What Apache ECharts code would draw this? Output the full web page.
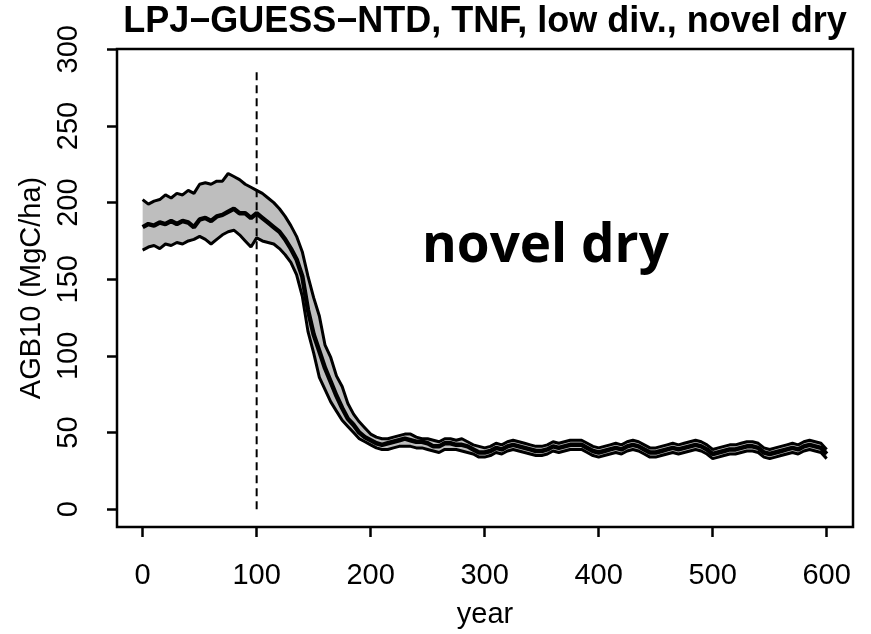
<!DOCTYPE html>
<html>
<head>
<meta charset="utf-8">
<script src="https://cdn.jsdelivr.net/npm/echarts@6/dist/echarts.min.js"></script>
<style>html,body{margin:0;padding:0;background:#fff}#c{width:871px;height:634px}</style>
</head>
<body>
<div id="c"></div>
<script>
const years = [0,5,10,15,20,25,30,35,40,45,50,55,60,65,70,75,80,85,90,95,100,105,110,115,120,125,130,135,140,145,150,155,160,165,170,175,180,185,190,195,200,205,210,215,220,225,230,235,240,245,250,255,260,265,270,275,280,285,290,295,300,305,310,315,320,325,330,335,340,345,350,355,360,365,370,375,380,385,390,395,400,405,410,415,420,425,430,435,440,445,450,455,460,465,470,475,480,485,490,495,500,505,510,515,520,525,530,535,540,545,550,555,560,565,570,575,580,585,590,595,600];
const meanAGB = [
184,186,185,187,186,188,186,188,187,184,
189,190,188,191,192,194,196,193,193,190,
193,190,187,184,181,176,170,163,152,130,
114,103,92,83,74,66,59,55,50,47,
45,43,42,43,44,45,46,45,44,44,
43,41,41,43,43,42,42,41,39,37,
37,38,40,39,41,42,41,40,39,38,
38,39,41,40,41,42,42,42,40,38,
37,38,39,40,39,41,42,41,39,37,
37,38,39,40,39,40,41,42,41,39,
36,37,38,39,39,40,41,41,40,37,
36,37,38,39,40,39,41,42,41,40,
36];
const upperAGB = [
202,199,201,202,205,203,206,205,208,206,
212,213,212,214,214,219,217,215,212,210,
208,206,203,200,196,191,185,178,168,152,
138,126,107,99,87,80,69,62,57,53,
49,47,46,46,47,48,49,49,47,46,
46,45,44,46,46,45,46,44,42,41,
40,41,43,42,44,45,44,43,42,41,
41,42,44,43,44,45,45,45,43,41,
40,41,42,43,42,44,45,44,42,40,
40,41,42,43,42,43,44,45,44,42,
39,40,41,42,42,43,44,44,43,40,
39,40,41,42,43,42,44,45,44,43,
39];
const lowerAGB = [
169,171,172,170,173,172,174,173,175,176,
178,176,173,176,179,181,182,179,175,171,
177,175,174,173,170,166,161,153,139,116,
102,86,78,70,64,58,54,50,46,44,
42,40,39,39,40,41,41,41,40,40,
39,38,37,39,39,39,38,37,36,34,
34,35,37,36,38,39,38,37,36,35,
35,36,38,37,38,39,39,39,37,35,
34,35,36,37,36,38,39,38,36,34,
34,35,36,37,36,37,38,39,38,36,
33,34,35,36,36,37,38,38,37,34,
33,34,35,36,37,36,38,39,38,37,
33];
const xTicks = [0,100,200,300,400,500,600];
const yTicks = [0,50,100,150,200,250,300];
const markerYear = 100;
const markerSpan = [0, 287];
const titleText = 'LPJ\u2212GUESS\u2212NTD, TNF, low div., novel dry';
const annotation = 'novel dry';

const pair = (a) => years.map((x, i) => [x, a[i]]);

const chart = echarts.init(document.getElementById('c'), null, {renderer: 'canvas'});
const font = 'Liberation Sans, Arial, Helvetica, sans-serif';
chart.setOption({
  animation: false,
  backgroundColor: '#fff',
  grid: {left: 117, top: 49, right: 18, bottom: 102, show: true, borderColor: '#000', borderWidth: 2.5, backgroundColor: 'transparent'},
  xAxis: {
    type: 'value', min: -22.5, max: 623.1,
    name: 'year', nameLocation: 'middle', nameGap: 73,
    nameTextStyle: {fontFamily: font, fontSize: 29, color: '#000'},
    axisLine: {show: false, onZero: false}, splitLine: {show: false},
    axisTick: {show: true, inside: false, length: 10, lineStyle: {color: '#000', width: 2.5}, customValues: xTicks},
    axisLabel: {show: true, margin: 34, fontFamily: font, fontSize: 29, color: '#000', customValues: xTicks}
  },
  yAxis: {
    type: 'value', min: -11.6, max: 300.2,
    name: 'AGB10 (MgC/ha)', nameLocation: 'middle', nameGap: 65, nameRotate: 90,
    nameTextStyle: {fontFamily: font, fontSize: 29, color: '#000'},
    axisLine: {show: false, onZero: false}, splitLine: {show: false},
    axisTick: {show: true, inside: false, length: 10, lineStyle: {color: '#000', width: 2.5}, customValues: yTicks},
    axisLabel: {show: true, rotate: 90, margin: 34, fontFamily: font, fontSize: 29, color: '#000', customValues: yTicks}
  },
  series: [
    {
      type: 'custom', name: 'band', silent: true, z: 1,
      data: years.map((x, i) => [x, upperAGB[i], lowerAGB[i]]),
      encode: {x: 0, y: [1, 2]},
      renderItem: function (params, api) {
        if (params.dataIndex !== 0) return null;
        const pts = [];
        for (let i = 0; i < years.length; i++) pts.push(api.coord([years[i], upperAGB[i]]));
        for (let i = years.length - 1; i >= 0; i--) pts.push(api.coord([years[i], lowerAGB[i]]));
        return {type: 'polygon', shape: {points: pts}, style: {fill: '#bebebe', stroke: null}};
      }
    },
    {type: 'line', name: 'upper', data: pair(upperAGB), symbol: 'none', lineStyle: {color: '#000', width: 3}, z: 3},
    {type: 'line', name: 'lower', data: pair(lowerAGB), symbol: 'none', lineStyle: {color: '#000', width: 3}, z: 3},
    {type: 'line', name: 'mean', data: pair(meanAGB), symbol: 'none', lineStyle: {color: '#000', width: 4.5}, z: 4},
    {type: 'line', name: 'marker', data: [[markerYear, markerSpan[0]], [markerYear, markerSpan[1]]], symbol: 'none', lineStyle: {color: '#000', width: 2, type: [8, 5]}, z: 2}
  ],
  graphic: [
    {
      type: 'text', x: 485, y: 22, z: 100,
      style: {text: titleText, fontFamily: font, fontWeight: 'bold', fontSize: 36, fill: '#000', align: 'center', verticalAlign: 'middle'}
    },
    {
      type: 'text', left: 422, top: 220, z: 100,
      style: {text: annotation, fontFamily: 'Open Sans', fontWeight: 'bold', fontSize: 53, fill: '#000'}
    }
  ]
});
</script>
</body>
</html>
